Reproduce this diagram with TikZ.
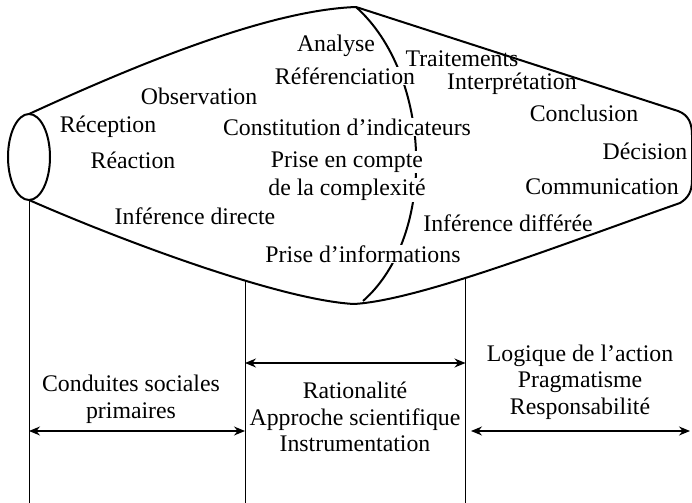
\documentclass[tikz,border=0pt]{standalone}
\usepackage{fontspec}
\setmainfont{Liberation Serif}
\usetikzlibrary{arrows.meta,shapes.geometric}
\begin{document}
\begin{tikzpicture}[x=0.5pt,y=-0.5pt,
  outline/.style={line width=1pt},
  vline/.style={line width=0.5pt},
  dbl/.style={line width=0.6pt,{Stealth[length=5.5pt,width=4.5pt]}-{Stealth[length=5.5pt,width=4.5pt]}},
  lbl/.style={inner sep=0.5pt,font=\fontsize{11.9}{13.5}\selectfont},
  lblw/.style={lbl,fill=white},
  blk/.style={align=center,inner sep=0pt,font=\fontsize{11.9}{13.3}\selectfont}]
\useasboundingbox (0,0) rectangle (692,503);
% coordinates
\coordinate (tl) at (29,114);
\coordinate (bl) at (29,200);
\coordinate (top) at (356,7);
\coordinate (bot) at (354,304);
\coordinate (b1) at (245,280.5);
\coordinate (b2) at (465.5,277.5);
% left ellipse
\node[draw,outline,ellipse,minimum width=21pt,minimum height=43pt,inner sep=0] (ell) at (29,157) {};
% outline
\draw[outline,line join=round] (tl) .. controls (140,63) and (270,10) .. (top)
  -- (678,111) .. controls (689,115) and (692,124) .. (692,135)
  -- (692,180) .. controls (692,192) and (688,198) .. (680,203)
  .. controls (560,245) and (420,300) .. (bot)
  .. controls (280,300) and (120,240) .. (bl);
% inner arc
\draw[outline] (top) .. controls (432,75) and (438,235) .. (363,301);
% vertical lines
\coordinate (e0) at (29,503);
\coordinate (e1) at (245,503);
\coordinate (e2) at (465.5,503);
\draw[vline] (bl) -- (e0);
\draw[vline] (b1) -- (e1);
\draw[vline] (b2) -- (e2);
% arrows
\coordinate (a1) at (245,363); \coordinate (a2) at (465.5,363);
\coordinate (c1) at (29,431); \coordinate (c2) at (245,431);
\coordinate (d1) at (471,431); \coordinate (d2) at (690,431);
\draw[dbl] (a1) -- (a2);
\draw[dbl] (c1) -- (c2);
\draw[dbl] (d1) -- (d2);
% labels inside
\node[lblw] (n1) at (336,46) {Analyse};
\node[lblw] (n2) at (345,76) {Référenciation};
\node[lbl] (n3) at (199,96) {Observation};
\node[lbl] (n4) at (108,127) {Réception};
\node[lblw] (n5) at (347,127) {Constitution d’indicateurs};
\node[lbl] (n6) at (133,160) {Réaction};
\node[lblw] (n7) at (347,162) {Prise en compte};
\node[lblw] (n8) at (347,190) {de la complexité};
\node[lbl] (n9) at (195,216) {Inférence directe};
\node[lblw] (n10) at (363,254) {Prise d’informations};
\node[lbl] (n11) at (462,59) {Traitements};
\node[lbl] (n12) at (512,84) {Interprétation};
\node[lbl] (n13) at (584,113) {Conclusion};
\node[lbl] (n14) at (645,151) {Décision};
\node[lbl] (n15) at (602,187) {Communication};
\node[lbl] (n16) at (508,223) {Inférence différée};
% lower blocks
\node[blk] (p1) at (131,399) {Conduites sociales\\primaires};
\node[blk] (p2) at (355,417) {Rationalité\\Approche scientifique\\Instrumentation};
\node[blk] (p3) at (580,382) {Logique de l’action\\Pragmatisme\\Responsabilité};
\end{tikzpicture}
\end{document}
